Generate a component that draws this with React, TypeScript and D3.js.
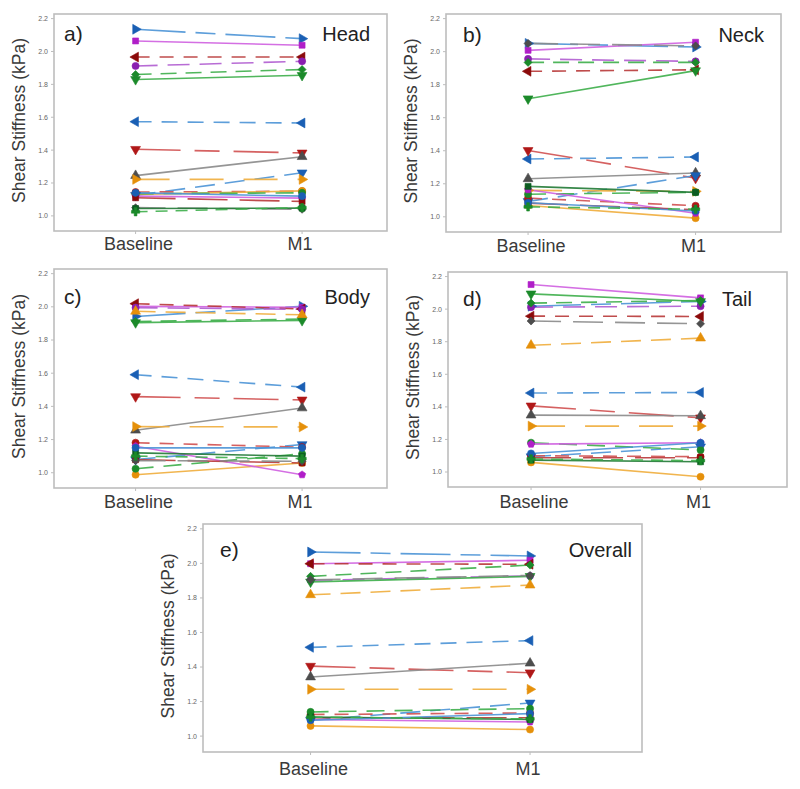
import React from "react";
import * as d3 from "d3";

// ---------- data ----------
const groups = ["Baseline", "M1"];
const yTicks = [1.0, 1.2, 1.4, 1.6, 1.8, 2.0, 2.2];
const panelLetters = ["a)", "b)", "c)", "d)", "e)"];
const panelNames = ["Head", "Neck", "Body", "Tail", "Overall"];

// 21 subjects, same order in every panel (null = not visible)
const headBaseline = [2.135, 2.064, 1.966, 1.912, 1.86, 1.83, 1.573, 1.405, 1.245, 1.125, 1.222, 1.145, 1.13, 1.135, 1.12, 1.11, 1.05, 1.045, 1.14, null, 1.025];
const headM1 = [2.078, 2.038, 1.966, 1.94, 1.89, 1.855, 1.565, 1.383, 1.36, 1.262, 1.222, 1.15, 1.152, 1.14, 1.108, 1.088, 1.04, 1.047, 1.12, null, 1.05];

const neckBaseline = [2.05, 2.008, 1.881, 1.956, 1.935, 1.715, 1.35, 1.402, 1.23, 1.093, 1.16, 1.113, 1.068, 1.137, 1.164, 1.083, 2.05, 1.184, 1.085, null, 1.06];
const neckM1 = [2.028, 2.057, 1.89, 1.941, 1.935, 1.885, 1.362, 1.234, 1.265, 1.25, 1.154, 1.067, 0.992, 1.148, 1.022, 1.042, 2.035, 1.148, 1.035, null, 1.046];

const bodyBaseline = [1.942, 2.003, 2.019, 1.995, 1.912, 1.905, 1.591, 1.459, 1.256, 1.079, 1.278, 1.181, 0.988, 1.024, 1.16, 1.079, 1.073, 1.12, 1.15, 1.973, 1.1];
const bodyM1 = [2.003, 1.997, 1.987, 1.985, 1.926, 1.918, 1.516, 1.439, 1.39, 1.17, 1.276, 1.154, 1.059, 1.114, 0.988, 1.059, 1.069, 1.1, 1.15, 1.952, 1.085];

const tailBaseline = [2.018, 2.151, 1.957, 2.012, 2.037, 2.094, 1.485, 1.406, 1.349, 1.094, 1.282, 1.1, 1.059, 1.18, 1.171, 1.088, 1.927, 1.073, 1.114, 1.778, 1.08];
const tailM1 = [2.047, 2.069, 1.955, 2.018, 2.053, 2.047, 1.488, 1.333, 1.345, 1.155, 1.282, 1.094, 0.971, 1.135, 1.18, 1.088, 1.91, 1.063, 1.18, 1.822, 1.07];

const overallBaseline = [2.066, 1.998, 1.998, 1.902, 1.925, 1.893, 1.514, 1.405, 1.342, 1.092, 1.271, 1.125, 1.059, 1.14, 1.096, 1.106, 1.905, 1.111, 1.092, 1.818, 1.11];
const overallM1 = [2.043, 2.018, 1.995, 1.927, 1.99, 1.925, 1.553, 1.367, 1.422, 1.192, 1.271, 1.134, 1.038, 1.159, 1.082, 1.106, 1.93, 1.096, 1.13, 1.874, 1.1];

const panelBaselines = [headBaseline, neckBaseline, bodyBaseline, tailBaseline, overallBaseline];
const panelM1s = [headM1, neckM1, bodyM1, tailM1, overallM1];

// ---------- styles ----------
const subjectColor = ["blue", "magenta", "darkred", "purple", "green", "green", "blue", "red", "grey", "blue", "orange", "red", "orange", "green", "magenta", "darkred", "grey", "darkgreen", "blue", "orange", "green"];
const subjectMarker = ["triR", "square", "triL", "circle", "diamond", "triD", "triL", "triD", "triU", "triD", "triR", "circle", "circle", "circle", "pentagon", "square", "diamond", "square", "circle", "triU", "plus"];
const subjectDash = ["50,10,20,10", "", "14,10", "22,10", "16,9", "", "16,10", "45,14,25,14", "", "20,10", "34,20", "14,10", "", "18,10", "", "40,12", "30,12", "", "", "20,10", "12,8"];

const palette: Record<string, { line: string; mark: string }> = {
  blue: { line: "#4b93d6", mark: "#1a5fb4" },
  magenta: { line: "#cf5fe0", mark: "#b01ec8" },
  purple: { line: "#b05cd0", mark: "#8a1fb0" },
  darkred: { line: "#b83838", mark: "#8b0a0a" },
  red: { line: "#d05050", mark: "#b01818" },
  green: { line: "#3dae4a", mark: "#1b8a2a" },
  darkgreen: { line: "#217a35", mark: "#0d5c22" },
  grey: { line: "#8a8a8a", mark: "#4d4d4d" },
  orange: { line: "#f0ad3c", mark: "#e5900a" },
};

// panel frames [x, y, w, h] and label tweaks
const frames = [
  { x: 54, y: 14, w: 333, h: 217, letterDy: 27, nameRight: 17, xlabDy: 19 },
  { x: 446, y: 14, w: 335, h: 218, letterDy: 28, nameRight: 17, xlabDy: 20 },
  { x: 54, y: 269, w: 333, h: 219, letterDy: 35, nameRight: 17, xlabDy: 20 },
  { x: 448, y: 272, w: 339, h: 215, letterDy: 34, nameRight: 35, xlabDy: 21 },
  { x: 203, y: 524, w: 439, h: 228, letterDy: 33, nameRight: 10, xlabDy: 23 },
];
const letterDx = [10, 17, 10, 15, 17];

const FONT = "'Liberation Sans', Arial, sans-serif";

function pentagonPath(r: number) {
  const pts: [number, number][] = [];
  for (let i = 0; i < 5; i++) {
    const a = -Math.PI / 2 + (i * 2 * Math.PI) / 5;
    pts.push([r * Math.cos(a), r * Math.sin(a)]);
  }
  return "M" + pts.map((p) => p.join(",")).join("L") + "Z";
}

function markerInfo(kind: string): { d: string; rot: number } {
  const sym = (t: d3.SymbolType, s: number) => d3.symbol().type(t).size(s)() as string;
  switch (kind) {
    case "triU": return { d: sym(d3.symbolTriangle, 42), rot: 0 };
    case "triD": return { d: sym(d3.symbolTriangle, 42), rot: 180 };
    case "triL": return { d: sym(d3.symbolTriangle, 42), rot: 270 };
    case "triR": return { d: sym(d3.symbolTriangle, 42), rot: 90 };
    case "square": return { d: sym(d3.symbolSquare, 36), rot: 0 };
    case "diamond": return { d: sym(d3.symbolSquare, 32), rot: 45 };
    case "plus": return { d: sym(d3.symbolCross, 38), rot: 0 };
    case "pentagon": return { d: pentagonPath(3.8), rot: 0 };
    default: return { d: sym(d3.symbolCircle, 40), rot: 0 };
  }
}

function Panel({ idx }: { idx: number }) {
  const f = frames[idx];
  const x = d3.scaleLinear().domain([-0.49, 1.51]).range([f.x, f.x + f.w]);
  const y = d3.scaleLinear().domain([0.908, 2.228]).range([f.y + f.h, f.y]);
  const base = panelBaselines[idx];
  const m1 = panelM1s[idx];
  const line = d3.line<[number, number]>().x((d) => x(d[0])).y((d) => y(d[1]));
  const subjects = d3.range(base.length).filter((i) => base[i] != null && m1[i] != null);

  return (
    <g>
      <rect x={f.x} y={f.y} width={f.w} height={f.h} fill="white" stroke="#bdbdbd" strokeWidth={1.6} />
      {yTicks.map((t) => (
        <g key={t}>
          <line x1={f.x - 3} x2={f.x} y1={y(t)} y2={y(t)} stroke="#bdbdbd" strokeWidth={1} />
          <text x={f.x - 6} y={y(t)} dy="0.35em" textAnchor="end" fontSize={7} fill="#666" fontFamily={FONT}>
            {d3.format(".1f")(t)}
          </text>
        </g>
      ))}
      {groups.map((g, gi) => (
        <g key={g}>
          <line x1={x(gi)} x2={x(gi)} y1={f.y + f.h} y2={f.y + f.h + 3} stroke="#bdbdbd" strokeWidth={1} />
          <text x={x(gi) + (gi === 0 ? 3 : -2)} y={f.y + f.h + f.xlabDy} textAnchor="middle" fontSize={18} fill="#3a3a3a" fontFamily={FONT}>
            {g}
          </text>
        </g>
      ))}
      <text
        transform={`translate(${f.x - 29},${f.y + f.h / 2 - 2}) rotate(-90)`}
        textAnchor="middle"
        fontSize={17.5}
        fill="#3a3a3a"
        fontFamily={FONT}
      >
        Shear Stiffness (kPa)
      </text>
      {subjects.map((i) => {
        const c = palette[subjectColor[i]];
        return (
          <path
            key={"l" + i}
            d={line([[0, base[i] as number], [1, m1[i] as number]]) as string}
            fill="none"
            stroke={c.line}
            strokeWidth={1.6}
            strokeOpacity={0.9}
            strokeDasharray={subjectDash[i] || undefined}
          />
        );
      })}
      {subjects.map((i) => {
        const c = palette[subjectColor[i]];
        const m = markerInfo(subjectMarker[i]);
        return (
          <g key={"m" + i}>
            {[base[i] as number, m1[i] as number].map((v, gi) => (
              <path
                key={gi}
                d={m.d}
                transform={`translate(${x(gi)},${y(v)}) rotate(${m.rot})`}
                fill={c.mark}
                stroke={c.mark}
                strokeWidth={0.6}
              />
            ))}
          </g>
        );
      })}
      <text x={f.x + letterDx[idx]} y={f.y + f.letterDy} fontSize={21} fill="#222" fontFamily={FONT}>
        {panelLetters[idx]}
      </text>
      <text x={f.x + f.w - f.nameRight} y={f.y + f.letterDy} textAnchor="end" fontSize={20} fill="#222" fontFamily={FONT}>
        {panelNames[idx]}
      </text>
    </g>
  );
}

export default function App() {
  return (
    <svg
      width={800}
      height={789}
      style={{ position: "absolute", left: 0, top: 0, background: "white" }}
    >
      <rect x={0} y={0} width={800} height={789} fill="white" />
      {panelNames.map((_, i) => (
        <Panel key={i} idx={i} />
      ))}
    </svg>
  );
}
